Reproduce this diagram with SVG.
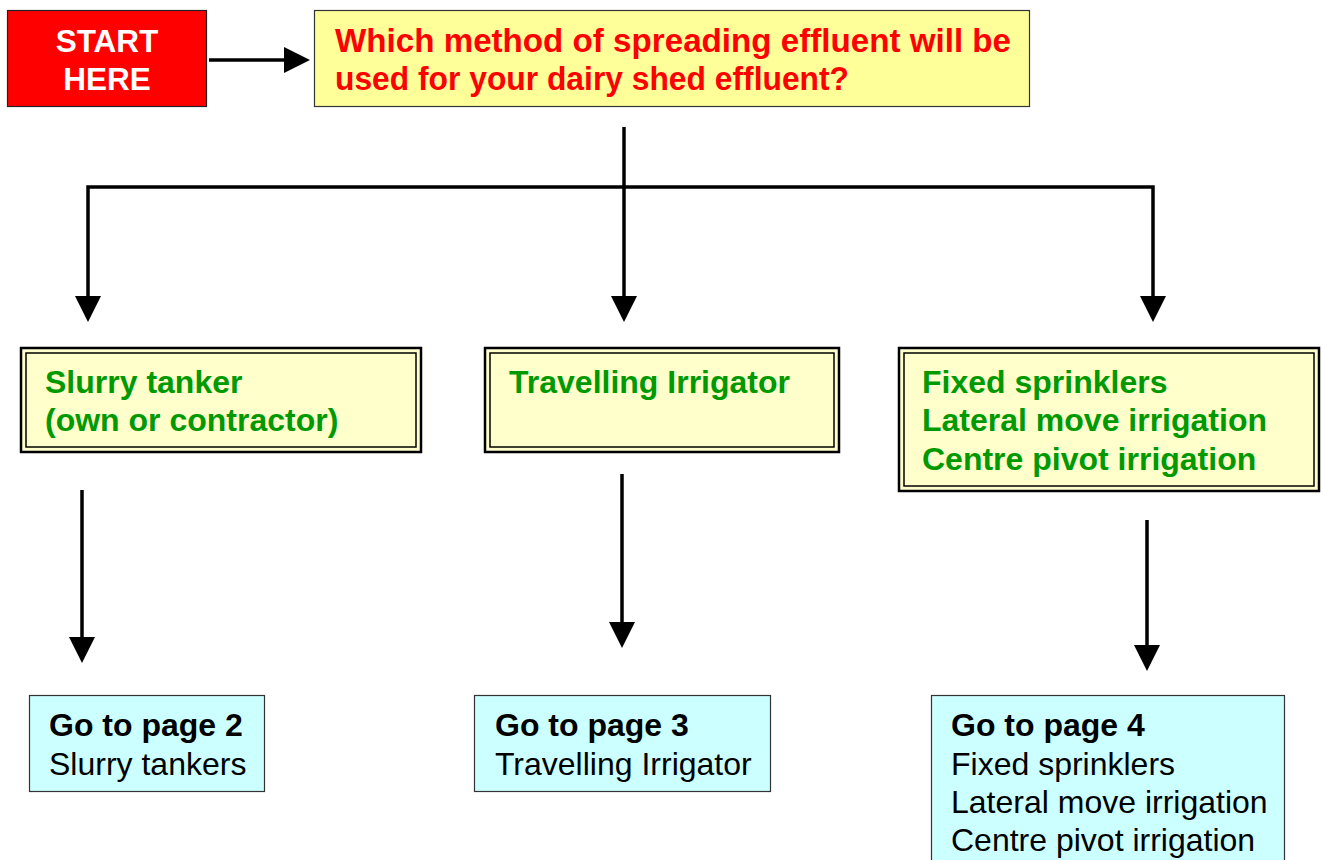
<svg xmlns="http://www.w3.org/2000/svg" width="1323" height="860" viewBox="0 0 1323 860">
<style>
.conn{fill:none;stroke:#000;stroke-width:3.5;stroke-linejoin:miter}
.green{fill:#009900;font-family:"Liberation Sans",Arial,sans-serif;font-weight:bold;font-size:32px}
.blk{fill:#000;font-family:"Liberation Sans",Arial,sans-serif;font-size:32px}
.b{font-weight:bold}
.gbox{fill:#FFFFCC;stroke:#000;stroke-width:2.5}
.gin{fill:none;stroke:#000;stroke-width:1.5}
.bbox{fill:#CCFFFF;stroke:#333;stroke-width:1.2}
</style>
<defs>
<marker id="ah" markerUnits="userSpaceOnUse" markerWidth="26" markerHeight="26" refX="16" refY="13" orient="auto" viewBox="0 0 26 26">
<path d="M0,0 L26,13 L0,26 Z" fill="#000"/>
</marker>
</defs>
<rect width="1323" height="860" fill="#fff"/>

<g id="connectors">
<path class="conn" d="M209,60 H300" marker-end="url(#ah)"/>
<path class="conn" d="M624,127 V312" marker-end="url(#ah)"/>
<path class="conn" d="M624,187 H88 V312" marker-end="url(#ah)"/>
<path class="conn" d="M624,187 H1153 V312" marker-end="url(#ah)"/>
<path class="conn" d="M82,490 V653" marker-end="url(#ah)"/>
<path class="conn" d="M622,474 V638" marker-end="url(#ah)"/>
<path class="conn" d="M1147,520 V661" marker-end="url(#ah)"/>
</g>

<g id="start">
<rect x="7.5" y="10.5" width="199" height="96" fill="#FF0000" stroke="#222" stroke-width="1.2"/>
<text x="107" y="52" text-anchor="middle" fill="#fff" font-family="Liberation Sans,Arial,sans-serif" font-weight="bold" font-size="31.5">START</text>
<text x="107" y="90" text-anchor="middle" fill="#fff" font-family="Liberation Sans,Arial,sans-serif" font-weight="bold" font-size="31.5">HERE</text>
</g>

<g id="question">
<rect x="314.5" y="10.5" width="715" height="96" fill="#FFFF99" stroke="#333" stroke-width="1.2"/>
<text x="335" y="52" fill="#FF0000" font-family="Liberation Sans,Arial,sans-serif" font-weight="bold" font-size="33" textLength="676" lengthAdjust="spacingAndGlyphs">Which method of spreading effluent will be</text>
<text x="335" y="90" fill="#FF0000" font-family="Liberation Sans,Arial,sans-serif" font-weight="bold" font-size="33" textLength="514" lengthAdjust="spacingAndGlyphs">used for your dairy shed effluent?</text>
</g>

<g id="slurry">
<rect class="gbox" x="21" y="348" width="400" height="104"/>
<rect class="gin" x="26" y="353" width="390" height="94"/>
<text class="green" x="45" y="393">Slurry tanker</text>
<text class="green" x="45" y="431">(own or contractor)</text>
</g>

<g id="travelling">
<rect class="gbox" x="485" y="348" width="354" height="104"/>
<rect class="gin" x="490" y="353" width="344" height="94"/>
<text class="green" x="509" y="393">Travelling Irrigator</text>
</g>

<g id="fixed">
<rect class="gbox" x="899" y="348" width="420" height="143"/>
<rect class="gin" x="904" y="353" width="410" height="133"/>
<text class="green" x="922" y="393">Fixed sprinklers</text>
<text class="green" x="922" y="431">Lateral move irrigation</text>
<text class="green" x="922" y="470">Centre pivot irrigation</text>
</g>

<g id="page2">
<rect class="bbox" x="29.5" y="695.5" width="235" height="96"/>
<text class="blk b" x="49" y="736">Go to page 2</text>
<text class="blk" x="49" y="775">Slurry tankers</text>
</g>

<g id="page3">
<rect class="bbox" x="474.5" y="695.5" width="296" height="96"/>
<text class="blk b" x="495" y="736">Go to page 3</text>
<text class="blk" x="495" y="775">Travelling Irrigator</text>
</g>

<g id="page4">
<rect class="bbox" x="931.5" y="695.5" width="353" height="180"/>
<text class="blk b" x="951" y="736">Go to page 4</text>
<text class="blk" x="951" y="775">Fixed sprinklers</text>
<text class="blk" x="951" y="813">Lateral move irrigation</text>
<text class="blk" x="951" y="851">Centre pivot irrigation</text>
</g>
</svg>
